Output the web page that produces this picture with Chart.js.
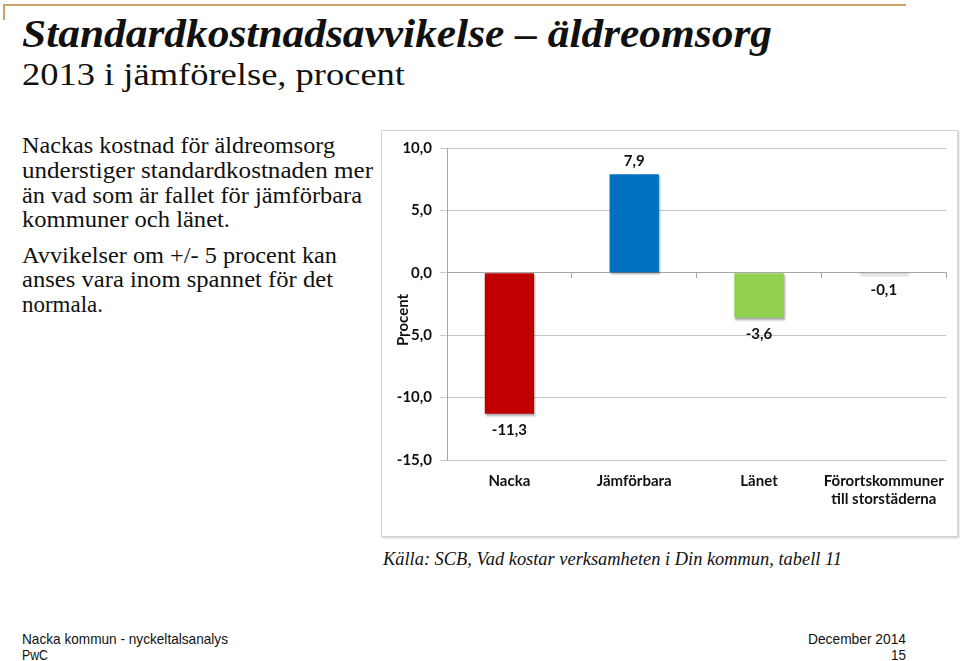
<!DOCTYPE html>
<html>
<head>
<meta charset="utf-8">
<script src="https://cdn.jsdelivr.net/npm/chart.js@4.4.1/dist/chart.umd.min.js"></script>
<style>
  html, body { margin:0; padding:0; background:#fff; }
  body { width:960px; height:661px; position:relative; overflow:hidden; }
  .t { position:absolute; white-space:nowrap; line-height:1; display:inline-block; transform-origin:0 0; color:#111; }
  .serif { font-family:"Liberation Serif", "DejaVu Serif", serif; }
  .sans { font-family:"Liberation Sans", Arial, sans-serif; }
  #deco-h { position:absolute; left:3px; top:4px; width:903px; height:2px; background:#C9A46A; }
  #deco-v { position:absolute; left:3px; top:4px; width:2px; height:16px; background:#C9A46A; }
  #frame { position:absolute; left:381px; top:130px; width:577px; height:407px; box-sizing:border-box;
           border:1px solid #D6D6D6; box-shadow:1px 1px 2px rgba(0,0,0,0.22); background:#fff; }
  #chartbox { position:absolute; left:382px; top:131px; width:575px; height:405px; }
</style>
</head>
<body>
<div id="deco-h"></div><div id="deco-v"></div>

<div class="t serif" data-w="750" style="left:22px; top:14px; font-size:39px; font-weight:bold; font-style:italic;">Standardkostnadsavvikelse – äldreomsorg</div>
<div class="t serif" data-w="383" style="left:22px; top:58px; font-size:32px;">2013 i jämförelse, procent</div>

<div class="t serif" data-w="313" style="left:22px; top:134.5px; font-size:22.5px;">Nackas kostnad för äldreomsorg</div>
<div class="t serif" data-w="351" style="left:22px; top:159.5px; font-size:22.5px;">understiger standardkostnaden mer</div>
<div class="t serif" data-w="340" style="left:22px; top:184.5px; font-size:22.5px;">än vad som är fallet för jämförbara</div>
<div class="t serif" data-w="208" style="left:22px; top:208.5px; font-size:22.5px;">kommuner och länet.</div>
<div class="t serif" data-w="315" style="left:22px; top:245.2px; font-size:22.5px;">Avvikelser om +/- 5 procent kan</div>
<div class="t serif" data-w="311" style="left:22px; top:269.2px; font-size:22.5px;">anses vara inom spannet för det</div>
<div class="t serif" data-w="81" style="left:22px; top:293.9px; font-size:22.5px;">normala.</div>

<div id="frame"></div>
<div id="chartbox"><canvas id="c" width="575" height="405"></canvas></div>

<div class="t serif" data-w="459" style="left:383px; top:549px; font-size:19px; font-style:italic;">Källa: SCB, Vad kostar verksamheten i Din kommun, tabell 11</div>

<div class="t sans" data-w="206" style="left:22px; top:631px; font-size:15px;">Nacka kommun - nyckeltalsanalys</div>
<div class="t sans" data-w="26" style="left:22px; top:647px; font-size:15px;">PwC</div>
<div class="t sans" data-w="98" data-r="906" style="top:631px; font-size:15px;">December 2014</div>
<div class="t sans" data-w="15" data-r="906" style="top:647px; font-size:15px;">15</div>

<script>
// ---- data ----
const categories = ['Nacka', 'Jämförbara', 'Länet', ['Förortskommuner', 'till storstäderna']];
const values = [-11.3, 7.9, -3.6, -0.1];
const barColors = ['#C00000', '#0070C0', '#92D050', '#BFBFBF'];
const yTicks = [-15, -10, -5, 0, 5, 10];
const yTitle = 'Procent';

// ---- fit text widths ----
document.querySelectorAll('.t[data-w]').forEach(el => {
  const target = parseFloat(el.dataset.w);
  const w = el.getBoundingClientRect().width;
  if (el.dataset.r) {
    el.style.left = (parseFloat(el.dataset.r) - target) + 'px';
  }
  if (w > 0) el.style.transform = 'scaleX(' + (target / w) + ')';
});

const fmt = v => Number(v).toFixed(1).replace('.', ',');
const labelFont = { family: 'Lato, "Open Sans", sans-serif', weight: 'bold', size: 15 };
const textColor = '#111111';

const shadowPlugin = {
  id: 'barShadow',
  beforeDatasetsDraw(chart) {
    const ctx = chart.ctx;
    ctx.save();
    ctx.shadowColor = 'rgba(0,0,0,0.35)';
    ctx.shadowOffsetX = 1;
    ctx.shadowOffsetY = 2;
    ctx.shadowBlur = 2;
  },
  afterDatasetsDraw(chart) {
    const ctx = chart.ctx;
    ctx.restore();
    // value labels
    const meta = chart.getDatasetMeta(0);
    ctx.save();
    ctx.font = 'bold 15px Lato, "Open Sans", sans-serif';
    ctx.fillStyle = textColor;
    ctx.textAlign = 'center';
    ctx.textBaseline = 'middle';
    meta.data.forEach((el, i) => {
      const v = values[i];
      const y = v >= 0 ? el.y - 13 : el.y + 16;
      ctx.fillText(fmt(v), el.x, y);
    });
    // axis title
    const ca = chart.chartArea;
    ctx.translate(ca.left - 44, (ca.top + ca.bottom) / 2 + 16);
    ctx.rotate(-Math.PI / 2);
    ctx.fillText(yTitle, 0, 0);
    ctx.restore();
  }
};

new Chart(document.getElementById('c'), {
  type: 'bar',
  data: {
    labels: categories,
    datasets: [{
      data: values,
      backgroundColor: barColors,
      borderWidth: 0,
      barPercentage: 0.395,
      categoryPercentage: 1.0
    }]
  },
  options: {
    responsive: false,
    animation: false,
    devicePixelRatio: 1,
    layout: { padding: { top: 16, right: 9, left: 0, bottom: 0 } },
    plugins: { legend: { display: false }, tooltip: { enabled: false } },
    scales: {
      x: {
        type: 'category',
        offset: true,
        grid: { display: false, drawTicks: false },
        border: { display: false },
        ticks: { font: labelFont, color: textColor, padding: 12, maxRotation: 0, autoSkip: false },
        afterFit(s) { s.height = 76; }
      },
      x2: {
        type: 'category',
        position: { y: 0 },
        offset: true,
        grid: { offset: true, drawOnChartArea: false, tickLength: 5, color: '#A6A6A6' },
        border: { display: true, color: '#A6A6A6' },
        ticks: { display: false }
      },
      y: {
        min: yTicks[0],
        max: yTicks[yTicks.length - 1],
        ticks: { stepSize: 5, callback: v => fmt(v), font: labelFont, color: textColor, padding: 8 },
        grid: { color: '#C8C8C8', tickLength: 7 },
        border: { display: true, color: '#A6A6A6' },
        afterFit(s) { s.width = 65; }
      }
    }
  },
  plugins: [shadowPlugin]
});
</script>
</body>
</html>
